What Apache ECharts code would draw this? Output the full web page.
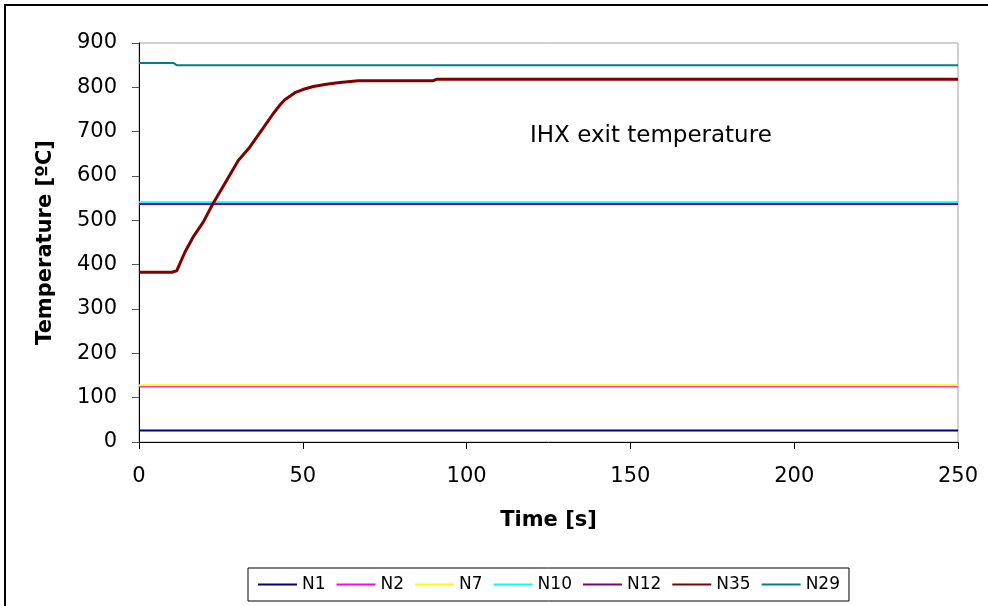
<!DOCTYPE html>
<html>
<head>
<meta charset="utf-8">
<script src="https://cdn.jsdelivr.net/npm/echarts@6/dist/echarts.min.js"></script>
<style>
  html, body { margin: 0; padding: 0; background: #fff; }
  #chart { width: 988px; height: 606px; }
</style>
</head>
<body>
<div id="chart"></div>
<script>
// values
const seriesNames = ['N1', 'N2', 'N7', 'N10', 'N12', 'N35', 'N29']
const seriesColors = ['#000080', '#ff00ff', '#ffff00', '#00ffff', '#800080', '#800000', '#008080']

const flatTime = [0, 250]
const n1Temp = [26, 26]
const n2Temp = [125, 125]
const n7Temp = [128, 128]
const n10Temp = [541, 541]
const n12Temp = [537, 537]

const n29Time = [0, 10.5, 11.5, 250]
const n29Temp = [855, 855, 850, 850]

const n35Time = [0, 10, 11.5, 14, 16.5, 19.6, 22.6, 26.2, 30.3, 33.8, 37.4, 41, 43, 44.5,
  47.6, 50, 53.2, 57.2, 61.3, 66.9, 89.8, 90.8, 250]
const n35Temp = [383, 383, 386, 428, 462, 496, 538, 583, 635, 665, 703, 741, 760, 772,
  788, 795, 802, 807, 811, 815, 815, 818, 818]

const xTicks = { min: 0, max: 250, step: 50 }
const yTicks = { min: 0, max: 900, step: 100 }

const font = 'DejaVu Sans'

function pairs(xs, ys) {
  return xs.map((x, i) => [x, ys[i]])
}

const seriesData = [
  pairs(flatTime, n1Temp),
  pairs(flatTime, n2Temp),
  pairs(flatTime, n7Temp),
  pairs(flatTime, n10Temp),
  pairs(flatTime, n12Temp),
  pairs(n35Time, n35Temp),
  pairs(n29Time, n29Temp),
]

const chart = echarts.init(document.getElementById('chart'), null, { renderer: 'canvas' })

chart.setOption({
  animation: false,
  backgroundColor: '#fff',
  grid: {
    left: 139, right: 30, top: 43, bottom: 164,
    show: true, borderColor: '#a0a0a0', borderWidth: 1, backgroundColor: 'transparent',
  },
  xAxis: {
    type: 'value',
    min: xTicks.min, max: xTicks.max, interval: xTicks.step,
    name: 'Time [s]',
    nameLocation: 'middle',
    nameGap: 68,
    nameTextStyle: { fontFamily: font, fontWeight: 'bold', fontSize: 21, color: '#000' },
    axisLine: { lineStyle: { color: '#000', width: 1 } },
    axisTick: { show: true, inside: false, length: 7, lineStyle: { color: '#000' } },
    axisLabel: { fontFamily: font, fontSize: 21, color: '#000', margin: 24 },
    splitLine: { show: false },
  },
  yAxis: {
    type: 'value',
    min: yTicks.min, max: yTicks.max, interval: yTicks.step,
    name: 'Temperature [ºC]',
    nameLocation: 'middle',
    nameGap: 83,
    nameTextStyle: { fontFamily: font, fontWeight: 'bold', fontSize: 21, color: '#000' },
    axisLine: { show: true, lineStyle: { color: '#000', width: 1 } },
    axisTick: { show: true, inside: false, length: 7, lineStyle: { color: '#555' } },
    axisLabel: { fontFamily: font, fontSize: 21, color: '#000', margin: 22 },
    splitLine: { show: false },
  },
  legend: {
    left: 248,
    top: 568,
    padding: [8, 9],
    itemGap: 10,
    itemWidth: 39,
    itemHeight: 14,
    borderColor: '#000',
    borderWidth: 1,
    backgroundColor: '#fff',
    itemStyle: { opacity: 0 },
    textStyle: { fontFamily: font, fontSize: 17, color: '#000' },
    data: seriesNames,
  },
  graphic: [
    {
      type: 'rect',
      silent: true,
      shape: { x: 5, y: 5, width: 1000, height: 700 },
      style: { fill: 'none', stroke: '#000', lineWidth: 2 },
    },
    {
      type: 'text',
      left: 530,
      top: 125,
      style: { text: 'IHX exit temperature', fontFamily: font, fontSize: 23, fill: '#000' },
    },
  ],
  series: seriesNames.map((name, i) => ({
    name,
    type: 'line',
    data: seriesData[i],
    showSymbol: false,
    symbol: 'none',
    color: seriesColors[i],
    lineStyle: { color: seriesColors[i], width: name === 'N35' ? 3 : 2 },
  })),
})
</script>
</body>
</html>
